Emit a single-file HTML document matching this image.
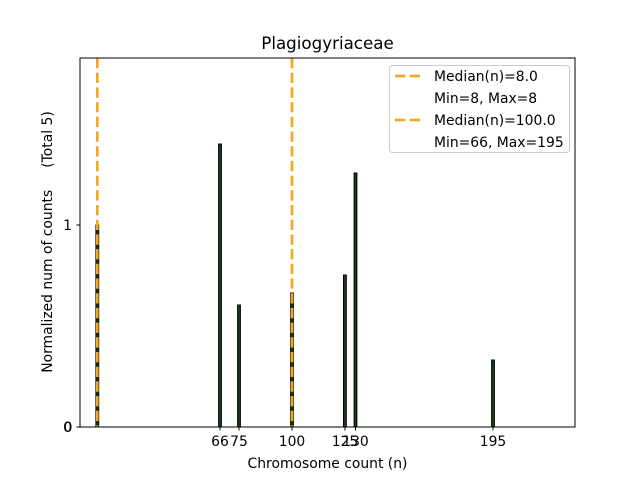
<!DOCTYPE html>
<html><head><meta charset="utf-8"><style>
html,body{margin:0;padding:0;background:#fff;}
svg{display:block;}
text{font-family:"DejaVu Sans","Liberation Sans",sans-serif;fill:#000;}
</style></head><body>
<svg width="640" height="480" viewBox="0 0 640 480" xmlns="http://www.w3.org/2000/svg">
<rect width="640" height="480" fill="#fff"/>
<!-- bars -->
<g fill="#1d3a1d" stroke="#000" stroke-width="1">
<rect x="95.9" y="225" width="2.8" height="202"/>
<rect x="218.6" y="144" width="2.8" height="283"/>
<rect x="237.6" y="305" width="2.8" height="122"/>
<rect x="290.6" y="293" width="2.8" height="134"/>
<rect x="343.5" y="275" width="2.8" height="152"/>
<rect x="354.1" y="173" width="2.8" height="254"/>
<rect x="491.6" y="360" width="2.8" height="67"/>
</g>
<!-- median lines -->
<g stroke="#f5a623" stroke-width="2.7" stroke-dasharray="10.3,4.4">
<line x1="97.3" y1="58" x2="97.3" y2="427"/>
<line x1="292" y1="58" x2="292" y2="427"/>
</g>
<!-- axes -->
<rect x="80" y="58" width="495" height="369" fill="none" stroke="#000" stroke-width="1"/>
<!-- y ticks -->
<g stroke="#000" stroke-width="1">
<line x1="76.5" y1="427" x2="80" y2="427"/>
<line x1="76.5" y1="225" x2="80" y2="225"/>
</g>
<g font-size="13.9" text-anchor="end">
<text x="72" y="432">0</text>
<text x="72.5" y="432">0</text>
<text x="72" y="230">1</text>
</g>
<!-- x ticks -->
<g stroke="#000" stroke-width="1">
<line x1="220" y1="427" x2="220" y2="430.5"/>
<line x1="239" y1="427" x2="239" y2="430.5"/>
<line x1="292" y1="427" x2="292" y2="430.5"/>
<line x1="345" y1="427" x2="345" y2="430.5"/>
<line x1="355.5" y1="427" x2="355.5" y2="430.5"/>
<line x1="493" y1="427" x2="493" y2="430.5"/>
</g>
<g font-size="13.9" text-anchor="middle">
<text x="220" y="446">66</text>
<text x="239" y="446">75</text>
<text x="292" y="446">100</text>
<text x="345" y="446">125</text>
<text x="355.5" y="446">130</text>
<text x="493" y="446">195</text>
</g>
<text x="327.5" y="468" font-size="13.9" text-anchor="middle">Chromosome count (n)</text>
<text transform="translate(52,242) rotate(-90)" font-size="13.9" text-anchor="middle" xml:space="preserve">Normalized num of counts     (Total 5)</text>
<text x="327.5" y="49" font-size="16.7" text-anchor="middle">Plagiogyriaceae</text>
<!-- legend -->
<rect x="389.5" y="65.5" width="180" height="87" rx="3" fill="#fff" fill-opacity="0.8" stroke="#ccc" stroke-width="1"/>
<g stroke="#f5a623" stroke-width="2.7" stroke-dasharray="10.3,4.4">
<line x1="395" y1="76" x2="423" y2="76"/>
<line x1="395" y1="120" x2="423" y2="120"/>
</g>
<g font-size="13.9">
<text x="434" y="81">Median(n)=8.0</text>
<text x="434" y="103">Min=8, Max=8</text>
<text x="434" y="125">Median(n)=100.0</text>
<text x="434" y="147">Min=66, Max=195</text>
</g>
</svg>
</body></html>
